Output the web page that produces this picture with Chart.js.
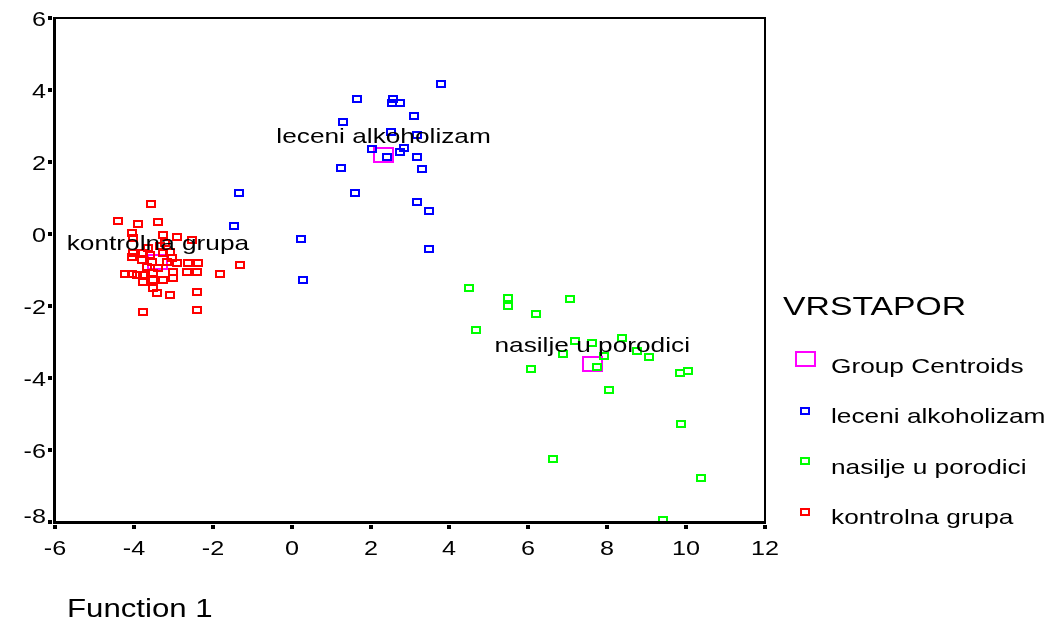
<!DOCTYPE html>
<html>
<head>
<meta charset="utf-8">
<title>Canonical Discriminant Functions</title>
<script src="https://cdn.jsdelivr.net/npm/chart.js@4.4.1/dist/chart.umd.min.js"></script>
<style>
  html, body { margin: 0; padding: 0; background: #fff; }
  #wrap { position: relative; width: 1049px; height: 621px; }
</style>
</head>
<body>
<div id="wrap"><canvas id="chart"></canvas></div>
<script>
// SPSS discriminant scores plot, Function 1 vs Function 2

// --- Data ---
const groupNames = ['leceni alkoholizam', 'nasilje u porodici', 'kontrolna grupa'];
const centroidsX = [2.33, 7.62, -3.39];
const centroidsY = [2.19, -3.61, -0.78];

const lecenX = [3.79, 1.66, 2.57, 2.54, 2.75, 3.10, 1.30, 2.52, 3.18, 2.04, 2.85, 2.75,
                2.42, 3.18, 3.30, 1.25, 1.61, -1.34, 3.18, 3.48, -1.46, 0.24, 3.48, 0.29];
const lecenY = [4.17, 3.75, 3.75, 3.64, 3.64, 3.28, 3.11, 2.83, 2.75, 2.36, 2.39, 2.28,
                2.14, 2.14, 1.81, 1.83, 1.14, 1.14, 0.89, 0.64, 0.22, -0.14, -0.42, -1.28];

const nasiljeX = [4.50, 5.48, 5.48, 7.06, 6.19, 4.67, 8.37, 7.18, 7.61, 8.76, 6.88,
                  7.92, 9.06, 7.74, 6.07, 9.85, 10.05, 8.05, 9.87, 6.63, 10.38, 9.41];
const nasiljeY = [-1.50, -1.78, -2.00, -1.81, -2.22, -2.67, -2.89, -2.97, -3.03, -3.25, -3.33,
                  -3.39, -3.42, -3.69, -3.75, -3.86, -3.81, -4.33, -5.28, -6.25, -6.78, -7.94];

const kontrolX = [-3.57, -4.40, -3.90, -3.39, -4.05, -4.02, -3.26, -2.91, -2.53, -4.02, -4.05,
                  -3.77, -3.59, -3.26, -3.08, -3.03, -3.79, -3.54, -2.91, -2.63, -2.37, -3.67,
                  -4.23, -4.05, -3.92, -3.77, -3.52, -3.01, -3.01, -2.65, -2.40, -1.82, -1.31,
                  -3.77, -3.52, -3.26, -3.52, -3.41, -3.08, -2.40, -3.77, -2.40,
                  -3.34, -3.64, -3.16, -3.39, -3.21];
const kontrolY = [0.83, 0.36, 0.28, 0.33, 0.03, -0.11, -0.03, -0.08, -0.17, -0.53, -0.64,
                  -0.53, -0.58, -0.53, -0.50, -0.67, -0.72, -0.78, -0.81, -0.81, -0.81, -0.92,
                  -1.11, -1.11, -1.14, -1.14, -1.08, -1.06, -1.22, -1.06, -1.06, -1.11, -0.86,
                  -1.33, -1.28, -1.28, -1.50, -1.64, -1.69, -1.61, -2.17, -2.11,
                  -0.33, -0.39, -0.78, -0.94, -0.25];

const xTicks = [-6, -4, -2, 0, 2, 4, 6, 8, 10, 12];
const yTicks = [-8, -6, -4, -2, 0, 2, 4, 6];

// --- Colors ---
const cCentroid = '#ff00ff';
const cLecen = '#0000ff';
const cNasilje = '#00ff00';
const cKontrol = '#ff0000';

const FONT = '"Liberation Sans", Arial, sans-serif';
const SX = 1.25; // the original's text is stretched sideways

function zip(xs, ys) {
    return xs.map((x, i) => ({ x: x, y: ys[i] }));
}

// hollow rectangle markers, as SPSS draws them
function boxMarker(color, w, h) {
    const c = document.createElement('canvas');
    c.width = w;
    c.height = h;
    const g = c.getContext('2d');
    g.strokeStyle = color;
    g.lineWidth = 2;
    g.strokeRect(1, 1, w - 2, h - 2);
    return c;
}

const mCentroid = boxMarker(cCentroid, 21, 16);
const mLecen = boxMarker(cLecen, 10, 8);
const mNasilje = boxMarker(cNasilje, 10, 8);
const mKontrol = boxMarker(cKontrol, 10, 8);

function stretchText(ctx, text, x, y, size, align, sx) {
    sx = sx || SX;
    ctx.save();
    ctx.font = size + 'px ' + FONT;
    const w = ctx.measureText(text).width * sx;
    let x0 = x;
    if (align === 'center') x0 = x - w / 2;
    if (align === 'right') x0 = x - w;
    ctx.translate(x0, y);
    ctx.scale(sx, 1);
    ctx.textAlign = 'left';
    ctx.textBaseline = 'alphabetic';
    ctx.fillStyle = '#000';
    ctx.fillText(text, 0, 0);
    ctx.restore();
}

// --- Plugin: frame, tick squares, labels, legend ---
const spssDecor = {
    id: 'spssDecor',
    beforeDatasetsDraw(chart) {
        // keep the little boxes crisp
        chart.ctx.imageSmoothingEnabled = false;
    },
    afterDatasetsDraw(chart) {
        const ctx = chart.ctx;
        ctx.imageSmoothingEnabled = true;
        const xs = chart.scales.x;
        const ys = chart.scales.y;
        // group labels sit just above each centroid
        groupNames.forEach(function (name, i) {
            const px = xs.getPixelForValue(centroidsX[i]);
            const py = ys.getPixelForValue(centroidsY[i]);
            stretchText(ctx, name, px, py - 12, 21, 'center');
        });
    },
    afterDraw(chart) {
        const ctx = chart.ctx;
        const a = chart.chartArea;
        const xs = chart.scales.x;
        const ys = chart.scales.y;

        ctx.save();
        ctx.fillStyle = '#000';
        ctx.strokeStyle = '#000';

        // frame: thick left/bottom, thinner top/right
        ctx.lineWidth = 2;
        ctx.beginPath();
        ctx.moveTo(a.left, a.top);
        ctx.lineTo(a.right, a.top);
        ctx.lineTo(a.right, a.bottom);
        ctx.stroke();
        ctx.lineWidth = 3;
        ctx.beginPath();
        ctx.moveTo(a.left - 0.5, a.top - 1);
        ctx.lineTo(a.left - 0.5, a.bottom + 0.5);
        ctx.lineTo(a.right + 1, a.bottom + 0.5);
        ctx.stroke();

        // tick squares and labels
        yTicks.forEach(function (v) {
            const py = Math.round(ys.getPixelForValue(v));
            ctx.fillRect(a.left - 7, py - 2, 4, 4);
            let ly = py + 8;
            if (v === yTicks[0]) ly = py + 1;
            stretchText(ctx, String(v), a.left - 9, ly, 21, 'right', 1.2);
        });
        xTicks.forEach(function (v) {
            const px = Math.round(xs.getPixelForValue(v));
            ctx.fillRect(px - 2, a.bottom + 3, 4, 4);
            stretchText(ctx, String(v), px, a.bottom + 33, 21, 'center', 1.2);
        });

        // axis title
        stretchText(ctx, 'Function 1', 67, 617, 26, 'left', 1.2);

        // legend
        stretchText(ctx, 'VRSTAPOR', 783, 315, 25, 'left', 1.35);
        const items = [
            { m: mCentroid, cy: 359, by: 373, t: 'Group Centroids' },
            { m: mLecen, cy: 411, by: 423, t: groupNames[0] },
            { m: mNasilje, cy: 461, by: 474, t: groupNames[1] },
            { m: mKontrol, cy: 512, by: 524, t: groupNames[2] }
        ];
        items.forEach(function (it) {
            ctx.drawImage(it.m, Math.round(805 - it.m.width / 2), Math.round(it.cy - it.m.height / 2));
            stretchText(ctx, it.t, 831, it.by, 21, 'left');
        });

        ctx.restore();
    }
};

// --- Chart ---
const chart = new Chart(document.getElementById('chart').getContext('2d'), {
    type: 'scatter',
    data: {
        datasets: [
            {
                label: 'Group Centroids',
                data: zip(centroidsX, centroidsY),
                pointStyle: mCentroid,
                pointRadius: 8,
                order: 10
            },
            {
                label: groupNames[0],
                data: zip(lecenX, lecenY),
                pointStyle: mLecen,
                pointRadius: 5,
                order: 3
            },
            {
                label: groupNames[1],
                data: zip(nasiljeX, nasiljeY),
                pointStyle: mNasilje,
                pointRadius: 5,
                order: 2
            },
            {
                label: groupNames[2],
                data: zip(kontrolX, kontrolY),
                pointStyle: mKontrol,
                pointRadius: 5,
                order: 1
            }
        ]
    },
    options: {
        responsive: true,
        maintainAspectRatio: false,
        animation: false,
        layout: { padding: { top: 18, right: 284, left: 0, bottom: 0 } },
        plugins: {
            legend: { display: false },
            title: { display: false }
        },
        scales: {
            x: {
                type: 'linear',
                min: -6,
                max: 12,
                ticks: { display: false, stepSize: 2 },
                grid: { display: false },
                border: { display: false },
                afterFit: function (scale) { scale.height = 99; }
            },
            y: {
                type: 'linear',
                min: -8,
                max: 6,
                ticks: { display: false, stepSize: 2 },
                grid: { display: false },
                border: { display: false },
                afterFit: function (scale) { scale.width = 55; }
            }
        }
    },
    plugins: [spssDecor]
});
</script>
</body>
</html>
